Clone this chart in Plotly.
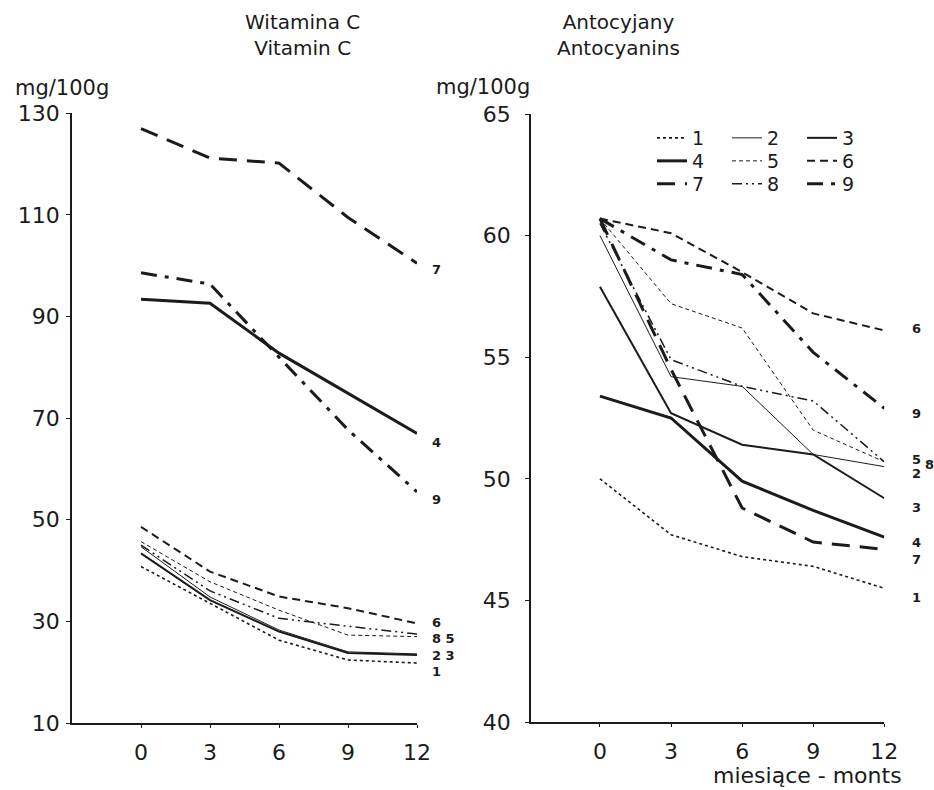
import plotly.graph_objects as go

months = [0, 3, 6, 9, 12]
series_names = ["1", "2", "3", "4", "5", "6", "7", "8", "9"]

# Vitamin C (mg/100g)
vitc = {
    "1": [40.8, 33.6, 26.3, 22.4, 21.8],
    "2": [44.7, 34.8, 28.3, 24.0, 23.6],
    "3": [43.4, 34.2, 28.0, 23.8, 23.4],
    "4": [93.4, 92.6, 82.8, 74.9, 67.0],
    "5": [45.7, 37.8, 32.2, 27.3, 27.0],
    "6": [48.6, 39.8, 34.9, 32.6, 29.6],
    "7": [127.0, 121.2, 120.2, 109.5, 100.5],
    "8": [45.0, 36.0, 30.6, 29.1, 27.5],
    "9": [98.6, 96.4, 82.0, 67.7, 55.5],
}

# Anthocyanins (mg/100g)
antho = {
    "1": [50.0, 47.7, 46.8, 46.4, 45.5],
    "2": [60.0, 54.2, 53.8, 51.0, 50.5],
    "3": [57.9, 52.7, 51.4, 51.0, 49.2],
    "4": [53.4, 52.5, 49.9, 48.7, 47.6],
    "5": [60.7, 57.2, 56.2, 52.0, 50.7],
    "6": [60.7, 60.1, 58.5, 56.8, 56.1],
    "7": [60.7, 54.5, 48.8, 47.4, 47.1],
    "8": [60.5, 54.9, 53.8, 53.2, 50.7],
    "9": [60.7, 59.0, 58.4, 55.2, 52.9],
}

vitc_ticks = [10, 30, 50, 70, 90, 110, 130]
antho_ticks = [40, 45, 50, 55, 60, 65]

# end-of-line labels
vitc_label_text = ["7", "4", "9", "6", "8 5", "2 3", "1"]
vitc_label_y = [99.2, 65.3, 53.9, 29.7, 26.7, 23.2, 20.2]
antho_label_text = ["6", "9", "5", "8", "2", "3", "4", "7", "1"]
antho_label_y = [56.2, 52.7, 50.8, 50.6, 50.2, 48.8, 47.4, 46.7, 45.1]

INK = "#1b1b1b"
FONT = "DejaVu Sans"

styles = {
    "1": dict(width=1.6, dash="dot"),
    "2": dict(width=1.0, dash="solid"),
    "3": dict(width=2.0, dash="solid"),
    "4": dict(width=3.0, dash="solid"),
    "5": dict(width=1.0, dash="4px,3px"),
    "6": dict(width=2.0, dash="8px,5px"),
    "7": dict(width=3.0, dash="18px,10px"),
    "8": dict(width=1.5, dash="10px,4px,2px,4px,2px,4px"),
    "9": dict(width=3.0, dash="16px,8px,4px,8px"),
}
legend_of = {"1": "legend", "2": "legend", "3": "legend",
             "4": "legend2", "5": "legend2", "6": "legend2",
             "7": "legend3", "8": "legend3", "9": "legend3"}

fig = go.Figure()
for n in series_names:
    fig.add_trace(go.Scatter(
        x=months, y=vitc[n], mode="lines", name=n, showlegend=False,
        line=dict(color=INK, **styles[n]), xaxis="x", yaxis="y"))
for n in series_names:
    fig.add_trace(go.Scatter(
        x=months, y=antho[n], mode="lines", name=n, showlegend=True,
        legend=legend_of[n],
        line=dict(color=INK, **styles[n]), xaxis="x2", yaxis="y2"))

W, H = 934, 790
def px(x):
    return x / W
def py(y):
    return 1 - y / H

axis_common = dict(showline=True, linecolor=INK, linewidth=1.5, showgrid=False,
                   zeroline=False, ticks="outside", tickcolor=INK,
                   tickfont=dict(family=FONT, size=22, color=INK))

fig.update_layout(
    width=W, height=H, margin=dict(l=0, r=0, t=0, b=0, autoexpand=False),
    paper_bgcolor="white", plot_bgcolor="white",
    font=dict(family=FONT, color=INK),
    xaxis=dict(domain=[px(72), px(417)], range=[-3, 12], tickvals=months,
               ticklen=3, anchor="y", ticklabelstandoff=6, automargin=False,
               **axis_common),
    yaxis=dict(domain=[py(723), py(113.3)], range=[10, 130], tickvals=vitc_ticks,
               ticklen=4, anchor="x", ticklabelstandoff=2, automargin=False,
               **axis_common),
    xaxis2=dict(domain=[px(531), px(884.3)], range=[-2.91, 12], tickvals=months,
                ticklen=3, anchor="y2", ticklabelstandoff=6, automargin=False,
                **axis_common),
    yaxis2=dict(domain=[py(722), py(114)], range=[40, 65], tickvals=antho_ticks,
                ticklen=4, anchor="x2", ticklabelstandoff=10, automargin=False,
                **axis_common),
    showlegend=True,
)

legend_common = dict(orientation="h", xanchor="left", yanchor="middle",
                     bgcolor="rgba(0,0,0,0)", borderwidth=0,
                     font=dict(family=FONT, size=19, color=INK),
                     entrywidth=30, entrywidthmode="pixels", itemwidth=30,
                     itemclick=False, itemdoubleclick=False)
fig.update_layout(
    legend=dict(x=px(652), y=py(138), **legend_common),
    legend2=dict(x=px(652), y=py(161), **legend_common),
    legend3=dict(x=px(652), y=py(184), **legend_common),
)

ann = []
for t, y in zip(vitc_label_text, vitc_label_y):
    ann.append(dict(x=12, y=y, xref="x", yref="y", text="<b>" + t + "</b>",
                    showarrow=False, xanchor="left", yanchor="middle", xshift=13,
                    font=dict(family=FONT, size=13, color=INK)))
for t, y in zip(antho_label_text, antho_label_y):
    shift = 39 if t == "8" else 26
    ann.append(dict(x=12, y=y, xref="x2", yref="y2", text="<b>" + t + "</b>",
                    showarrow=False, xanchor="left", yanchor="middle", xshift=shift,
                    font=dict(family=FONT, size=13, color=INK)))

ann += [
    dict(x=px(302), y=py(35), xref="paper", yref="paper",
         text="Witamina C<br>Vitamin C", showarrow=False, align="center",
         xanchor="center", yanchor="middle",
         font=dict(family=FONT, size=20, color=INK)),
    dict(x=px(618), y=py(35), xref="paper", yref="paper",
         text="Antocyjany<br>Antocyanins", showarrow=False, align="center",
         xanchor="center", yanchor="middle",
         font=dict(family=FONT, size=20, color=INK)),
    dict(x=px(62), y=py(88), xref="paper", yref="paper", text="mg/100g",
         showarrow=False, xanchor="center", yanchor="middle",
         font=dict(family=FONT, size=21, color=INK)),
    dict(x=px(483), y=py(87), xref="paper", yref="paper", text="mg/100g",
         showarrow=False, xanchor="center", yanchor="middle",
         font=dict(family=FONT, size=21, color=INK)),
    dict(x=px(904), y=py(775), xref="paper", yref="paper", text="miesiące - monts",
         showarrow=False, xanchor="right", yanchor="middle",
         font=dict(family=FONT, size=22, color=INK)),
]
fig.update_layout(annotations=ann)

# remove the browser's default 8px body margin so the 934x790 figure fills the window
fig.write_html("out.html", config={"displayModeBar": False},
               post_script="document.body.style.margin='0px';")
